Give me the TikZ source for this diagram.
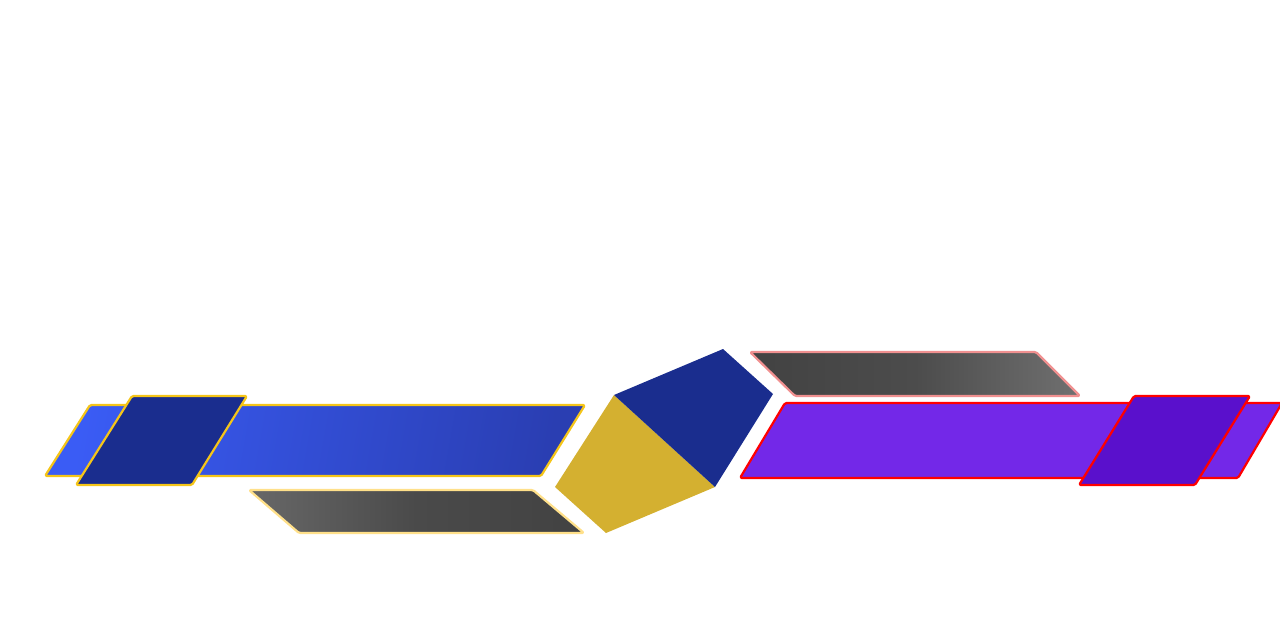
\documentclass[tikz,border=0pt]{standalone}
\usepackage{tikz}
\definecolor{navy}{HTML}{1A2D8E}
\definecolor{gold}{HTML}{D4B030}
\definecolor{rim}{HTML}{F5C518}
\definecolor{paleRim}{HTML}{FFE08A}
\definecolor{pinkRim}{HTML}{F09090}
\definecolor{violet}{HTML}{7328E8}
\definecolor{deepViolet}{HTML}{5A10CC}
\tikzset{
  slab/.style={line width=2.2pt, rounded corners=1.5pt, line join=round},
}
\begin{document}
\begin{tikzpicture}[x=1pt,y=-1pt]
\useasboundingbox (0,0) rectangle (1280,640);
% left band
\shade[slab, draw=rim, left color={rgb,255:red,58;green,92;blue,245}, right color={rgb,255:red,42;green,62;blue,178}, shading angle=80]
  (90,405) -- (585,405) -- (541,476) -- (45,476) -- cycle;
\draw[slab, draw=rim, fill=navy] (132,396) -- (247,396) -- (192,485) -- (76,485) -- cycle;
\shade[slab, draw=paleRim, left color={rgb,255:red,104;green,104;blue,104}, right color={rgb,255:red,66;green,66;blue,66}, middle color={rgb,255:red,74;green,74;blue,74}]
  (249,490) -- (533,490) -- (584,533) -- (299,533) -- cycle;
% centre piece
\fill[gold] (614,395) -- (715,487) -- (606,533) -- (555,487) -- cycle;
\fill[navy] (614,395) -- (723,349) -- (773,394) -- (715,487) -- cycle;
% right band
\shade[slab, draw=pinkRim, left color={rgb,255:red,66;green,66;blue,66}, right color={rgb,255:red,112;green,112;blue,112}, middle color={rgb,255:red,76;green,76;blue,76}]
  (750,352) -- (1036,352) -- (1080,396) -- (795,396) -- cycle;
\draw[slab, draw=red, fill=violet] (785,403) -- (1282,403) -- (1238,478) -- (740,478) -- cycle;
\draw[slab, draw=red, fill=deepViolet] (1134,396) -- (1250,396) -- (1195,485) -- (1079,485) -- cycle;
\end{tikzpicture}
\end{document}
